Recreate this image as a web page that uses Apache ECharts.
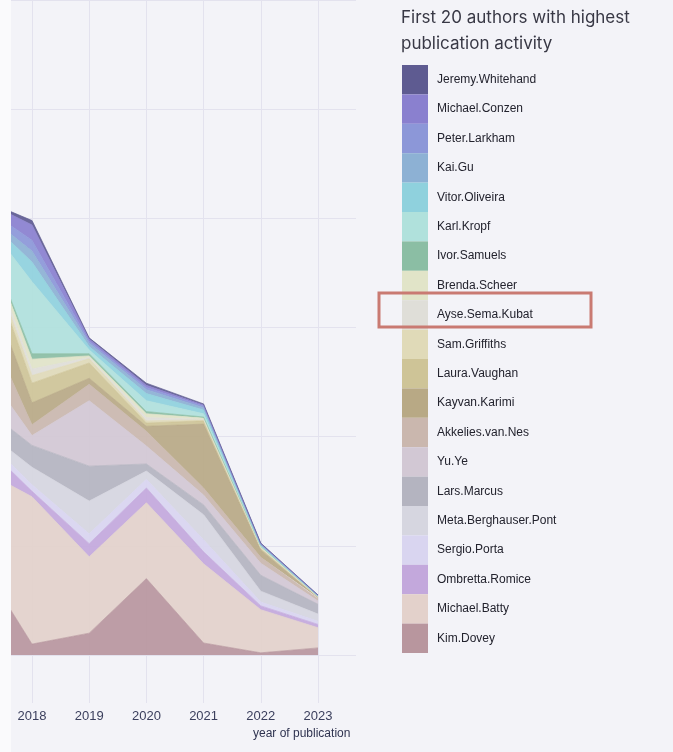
<!DOCTYPE html>
<html>
<head>
<meta charset="utf-8">
<script src="https://cdn.jsdelivr.net/npm/echarts@6/dist/echarts.min.js"></script>
<style>
html,body{margin:0;padding:0;background:#f3f3f8;}
#chart{width:673px;height:752px;}
</style>
</head>
<body>
<div id="chart"></div>
<script>
// categories (2017 is only partly visible at the left edge of the picture)
const years = ['2017', '2018', '2019', '2020', '2021', '2022', '2023'];

// authors, bottom of the stack first
const authors = [
  'Kim.Dovey', 'Michael.Batty', 'Ombretta.Romice', 'Sergio.Porta', 'Meta.Berghauser.Pont',
  'Lars.Marcus', 'Yu.Ye', 'Akkelies.van.Nes', 'Kayvan.Karimi', 'Laura.Vaughan',
  'Sam.Griffiths', 'Ayse.Sema.Kubat', 'Brenda.Scheer', 'Ivor.Samuels', 'Karl.Kropf',
  'Vitor.Oliveira', 'Kai.Gu', 'Peter.Larkham', 'Michael.Conzen', 'Jeremy.Whitehand'
];

// publications per year
const kimDovey          = [9.4, 1.0, 2.0, 7.0, 1.1, 0.2, 0.65];
const michaelBatty      = [7.9, 13.5, 7.0, 6.95, 7.25, 3.95, 1.85];
const ombrettaRomice    = [2.8, 0.5, 1.2, 1.35, 1.1, 0.35, 0.3];
const sergioPorta       = [0.7, 0.6, 0.9, 0.8, 1.1, 0.35, 0.3];
const metaBerghauser    = [0.5, 1.6, 3.0, 0.75, 2.3, 1.0, 0.65];
const larsMarcus        = [2.0, 2.0, 3.2, 0.65, 0.9, 1.45, 0.9];
const yuYe              = [4.2, 0.9, 6.0, 1.65, 0.9, 1.1, 0.3];
const akkeliesVanNes    = [5.2, 1.0, 1.5, 1.35, 0.65, 0.55, 0.2];
const kayvanKarimi      = [4.6, 2.0, 0.55, 0.45, 5.85, 0.65, 0.1];
const lauraVaughan      = [2.5, 1.8, 1.4, 0.3, 0.3, 0.15, 0.05];
const samGriffiths      = [0.6, 0.7, 0.4, 0.2, 0.1, 0.05, 0.02];
const ayseSemaKubat     = [0.3, 0.6, 0.1, 0.3, 0.05, 0.05, 0.02];
const brendaScheer      = [0.3, 0.9, 0.15, 0.35, 0.1, 0.05, 0.02];
const ivorSamuels       = [0.0, 0.5, 0.2, 0.2, 0.1, 0.05, 0.02];
const karlKropf         = [0.0, 6.6, 0.35, 1.0, 0.3, 0.05, 0.02];
const vitorOliveira     = [0.0, 1.8, 0.3, 0.65, 0.35, 0.05, 0.02];
const kaiGu             = [0.2, 1.0, 0.3, 0.35, 0.2, 0.05, 0.02];
const peterLarkham      = [0.4, 1.0, 0.2, 0.2, 0.15, 0.05, 0.02];
const michaelConzen     = [0.4, 1.4, 0.2, 0.2, 0.1, 0.05, 0.02];
const jeremyWhitehand   = [0.0, 0.4, 0.1, 0.2, 0.1, 0.05, 0.02];

const seriesValues = [
  kimDovey, michaelBatty, ombrettaRomice, sergioPorta, metaBerghauser,
  larsMarcus, yuYe, akkeliesVanNes, kayvanKarimi, lauraVaughan,
  samGriffiths, ayseSemaKubat, brendaScheer, ivorSamuels, karlKropf,
  vitorOliveira, kaiGu, peterLarkham, michaelConzen, jeremyWhitehand
];

const palette = [
  '#b8969e', '#e3d1cb', '#c3a8dc', '#d9d5f0', '#d6d6e0',
  '#b4b4c0', '#d2c8d4', '#cab7ae', '#b8a985', '#cec497',
  '#e0dab8', '#dfded8', '#e1e4c8', '#8bbea4', '#b0e1dc',
  '#8fd1dd', '#8db1d4', '#8c97d8', '#8a80cf', '#5e5b91'
];

const gridColor = '#e3e2ee';
const font = "'Liberation Sans', Arial, sans-serif";

const chart = echarts.init(document.getElementById('chart'), null, {renderer: 'canvas'});

const series = authors.map((name, i) => ({
  name: name,
  type: 'line',
  stack: 'total',
  xAxisIndex: 0,
  yAxisIndex: 0,
  data: seriesValues[i],
  color: palette[i],
  symbol: 'none',
  showSymbol: false,
  clip: true,
  lineStyle: {width: 0.7, color: palette[i]},
  areaStyle: {color: palette[i], opacity: 0.92},
  emphasis: {disabled: true}
}));

chart.setOption({
  animation: false,
  backgroundColor: '#f3f3f8',
  title: {
    text: 'First 20 authors with highest\npublication activity',
    left: 401,
    top: 5,
    padding: 0,
    textStyle: {
      fontFamily: "Inter, 'Open Sans', sans-serif",
      fontSize: 17,
      fontWeight: 'normal',
      lineHeight: 26,
      color: '#383845'
    }
  },
  legend: {
    orient: 'vertical',
    left: 402,
    top: 65,
    padding: 0,
    itemWidth: 26,
    itemHeight: 29.4,
    itemGap: 0,
    icon: 'rect',
    selectedMode: false,
    data: authors.slice().reverse(),
    itemStyle: {borderWidth: 0},
    textStyle: {
      fontFamily: font,
      fontSize: 12,
      color: '#23232e',
      padding: [0, 0, 0, 4]
    }
  },
  grid: [
    {left: -25.2, right: 355, top: 0, bottom: 97, containLabel: false, outerBoundsMode: 'none'},
    {left: 318, right: 317, top: 0, bottom: 97, containLabel: false, outerBoundsMode: 'none'}
  ],
  xAxis: [
    {
      type: 'category',
      gridIndex: 0,
      data: years,
      boundaryGap: false,
      axisLine: {show: false},
      axisTick: {show: true, length: 48, lineStyle: {color: gridColor, width: 1}},
      splitLine: {show: true, lineStyle: {color: gridColor, width: 1}},
      axisLabel: {
        margin: 55,
        fontFamily: font,
        fontSize: 13,
        color: '#3a3e5c'
      }
    },
    {type: 'value', gridIndex: 1, min: 0, max: 1, show: false}
  ],
  yAxis: [
    {
      type: 'value',
      gridIndex: 0,
      min: 0,
      max: 60,
      interval: 10,
      axisLine: {show: false},
      axisTick: {show: false},
      axisLabel: {show: false},
      splitLine: {show: true, lineStyle: {color: gridColor, width: 1}}
    },
    {
      type: 'value',
      gridIndex: 1,
      min: 0,
      max: 60,
      interval: 10,
      axisLine: {show: false},
      axisTick: {show: false},
      axisLabel: {show: false},
      splitLine: {show: true, lineStyle: {color: gridColor, width: 1}}
    }
  ],
  series: series,
  graphic: [
    {
      type: 'rect',
      z: 100,
      shape: {x: 0, y: 0, width: 11, height: 752},
      style: {fill: '#fafafc'}
    },
    {
      type: 'text',
      z: 100,
      left: 253,
      top: 728,
      style: {
        text: 'year of publication',
        fontFamily: font,
        fontSize: 12,
        fill: '#2f3350'
      }
    },
    {
      type: 'rect',
      z: 100,
      shape: {x: 379, y: 293, width: 212, height: 34},
      style: {fill: 'none', stroke: '#c97a72', lineWidth: 3}
    }
  ]
});
</script>
</body>
</html>
